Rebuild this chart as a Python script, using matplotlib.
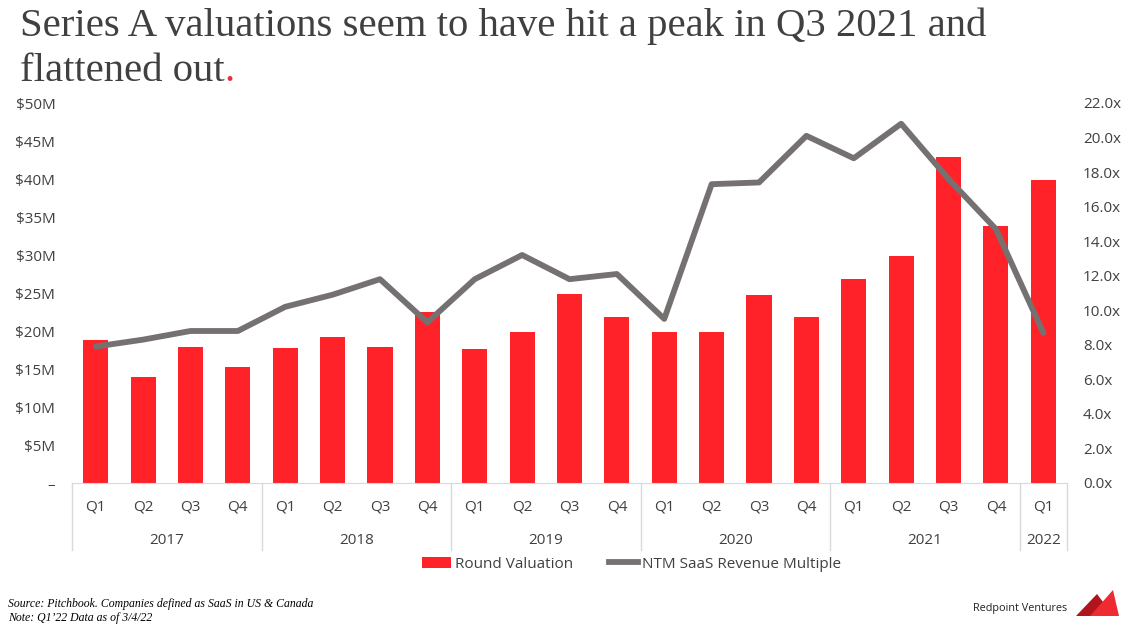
#!/usr/bin/env python3
import matplotlib
matplotlib.use("Agg")
import matplotlib.pyplot as plt
from matplotlib.patches import Patch, Polygon
from matplotlib.lines import Line2D

QUARTERS = ["Q1", "Q2", "Q3", "Q4"] * 5 + ["Q1"]
YEARS = ["2017", "2018", "2019", "2020", "2021", "2022"]
YEAR_SIZES = [4, 4, 4, 4, 4, 1]

# round valuation, $M
VALUATION = [18.8, 13.9, 17.9, 15.2, 17.8, 19.2, 17.9, 22.5, 17.6, 19.9, 24.9,
             21.8, 19.9, 19.9, 24.8, 21.8, 26.8, 29.9, 42.9, 33.8, 39.9]
# NTM SaaS revenue multiple, x
MULTIPLE = [7.9, 8.3, 8.8, 8.8, 10.2, 10.9, 11.8, 9.3, 11.8, 13.2, 11.8,
            12.1, 9.5, 17.3, 17.4, 20.1, 18.8, 20.8, 17.6, 14.7, 8.7]

LEFT_TICKS = [0, 5, 10, 15, 20, 25, 30, 35, 40, 45, 50]
LEFT_LABELS = ["–"] + [f"${v}M" for v in LEFT_TICKS[1:]]
RIGHT_TICKS = [0, 2, 4, 6, 8, 10, 12, 14, 16, 18, 20, 22]
RIGHT_LABELS = [f"{v:.1f}x" for v in RIGHT_TICKS]

RED = "#FF2229"
GRAY = "#767171"
TEXT = "#404040"
SEP = "#d9d9d9"

W, H = 1128, 627
TITLE_SIZE = 29.3


def main():
    plt.rcParams["font.family"] = ["Open Sans", "DejaVu Sans"]
    fig = plt.figure(figsize=(W / 100, H / 100), dpi=100)
    ax = fig.add_axes([72 / W, 1 - 483 / H, (1067 - 72) / W, (483 - 103) / H])
    ax2 = ax.twinx()

    xs = list(range(len(QUARTERS)))
    ax.bar(xs, VALUATION, width=0.53, color=RED, zorder=2)
    ax2.plot(xs, MULTIPLE, color=GRAY, lw=4.2, solid_joinstyle="round",
             solid_capstyle="round", zorder=3)

    ax.set_xlim(-0.5, len(xs) - 0.5)
    ax.set_ylim(0, 50)
    ax2.set_ylim(0, 22)

    ax.set_yticks(LEFT_TICKS, LEFT_LABELS)
    ax2.set_yticks(RIGHT_TICKS, RIGHT_LABELS)
    ax.set_xticks(xs, QUARTERS)
    ax.tick_params(axis="y", length=0, pad=12, labelsize=11, labelcolor=TEXT)
    ax2.tick_params(axis="y", length=0, pad=11.5, labelsize=11, labelcolor=TEXT)
    ax.tick_params(axis="x", length=0, pad=12, labelsize=11, labelcolor=TEXT)

    for a in (ax, ax2):
        for s in a.spines.values():
            s.set_visible(False)
    ax.spines["bottom"].set_visible(True)
    ax.spines["bottom"].set_color(SEP)

    # year groups below the quarter labels
    tr = ax.get_xaxis_transform()
    start = -0.5
    bounds = [start]
    for year, n in zip(YEARS, YEAR_SIZES):
        ax.text(start + n / 2, -0.152, year, transform=tr, ha="center",
                va="center", fontsize=11, color=TEXT)
        start += n
        bounds.append(start)
    for b in bounds:
        ax.plot([b, b], [0, -0.176], transform=tr, color=SEP, lw=1,
                clip_on=False)

    handles = [Patch(facecolor=RED, edgecolor="none"),
               Line2D([], [], color=GRAY, lw=4.2)]
    fig.legend(handles, ["Round Valuation", "NTM SaaS Revenue Multiple"],
               loc="center left", bbox_to_anchor=(408 / W, 1 - 564 / H),
               ncol=2, frameon=False, fontsize=11, labelcolor=TEXT,
               handlelength=1.9, handletextpad=0.25, columnspacing=2.4)

    # title, with a red full stop
    fig.text(20 / W, 1 - 36 / H,
             "Series A valuations seem to have hit a peak in Q3 2021 and",
             family="Liberation Serif", fontsize=TITLE_SIZE, color=TEXT,
             va="baseline")
    t2 = fig.text(20 / W, 1 - 81 / H, "flattened out",
                  family="Liberation Serif", fontsize=TITLE_SIZE, color=TEXT,
                  va="baseline")
    fig.canvas.draw()
    bb = t2.get_window_extent()
    fig.text(bb.x1 / W, 1 - 81 / H, ".", family="Liberation Serif",
             fontsize=TITLE_SIZE, color="#E8303A", va="baseline")

    # footnote
    fig.text(8 / W, 1 - 607 / H,
             "Source: Pitchbook. Companies defined as SaaS in US & Canada",
             family="Liberation Serif", style="italic", fontsize=8.5,
             color="black", va="baseline")
    fig.text(8 / W, 1 - 621 / H, "Note: Q1\u201922 Data as of 3/4/22",
             family="Liberation Serif", style="italic", fontsize=8.5,
             color="black", va="baseline")

    # logo
    fig.text(1067 / W, 1 - 609 / H, "Redpoint Ventures", fontsize=7.8,
             color="#222222", ha="right", va="center")
    dark = [(1076, 616), (1097, 594), (1106, 606), (1100, 616)]
    light = [(1090, 616), (1113, 590), (1119, 616)]
    for pts, c in ((dark, "#B0141C"), (light, "#EE2A33")):
        fig.add_artist(Polygon([(x / W, 1 - y / H) for x, y in pts],
                               closed=True, facecolor=c, edgecolor="none",
                               transform=fig.transFigure))

    fig.savefig("out.png", dpi=100)


if __name__ == "__main__":
    main()
